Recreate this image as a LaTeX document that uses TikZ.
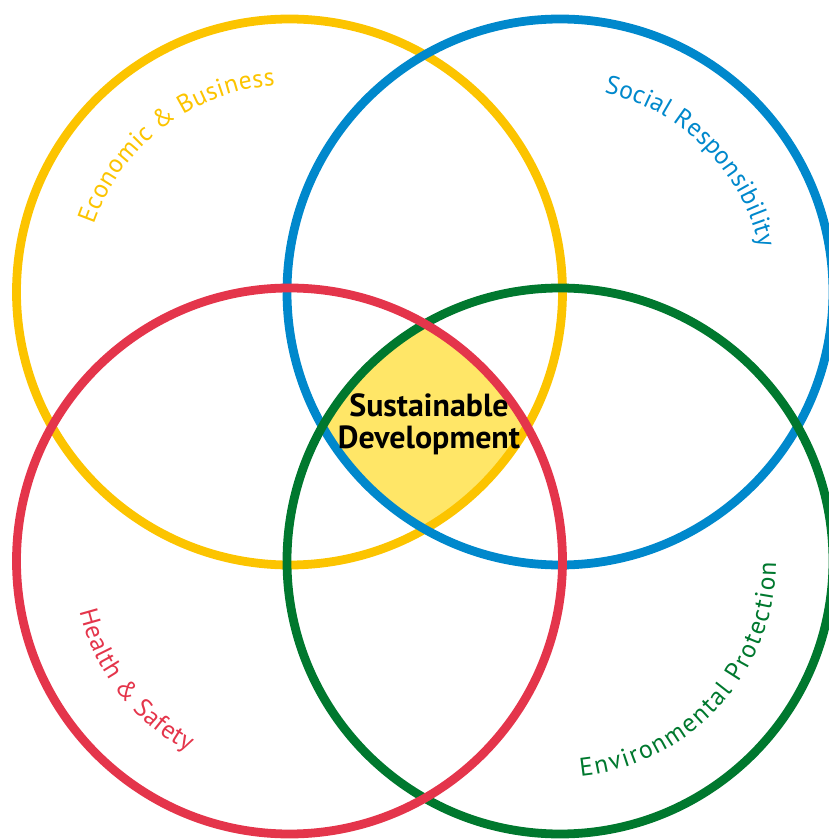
\documentclass[tikz,border=0pt]{standalone}
\usepackage{fontspec}
\setmainfont{PT Sans}
\usepackage{xcolor}
\usepackage{tikz}
\usetikzlibrary{decorations.text}
\definecolor{ecoyellow}{HTML}{FCC400}
\definecolor{socblue}{HTML}{0088CC}
\definecolor{healthred}{HTML}{E4354B}
\definecolor{envgreen}{HTML}{00782E}
\definecolor{corefill}{HTML}{FFE667}
\tikzstyle{ring} = [line width=5pt]
\tikzstyle{arclabel} = [decorate, decoration={text along path, text align={fit to path}}]
\tikzstyle{core} = [font=\fontsize{18.2}{18}\selectfont\bfseries, align=center, text=black]
\newcommand{\lblfont}{\fontsize{14.6}{17}\selectfont}

\begin{document}
\begin{tikzpicture}[x=0.02cm, y=0.02cm]
    \useasboundingbox (0,0) rectangle (829,840);
    \clip (0,0) rectangle (829,840);
    % Centres
    \coordinate (eco) at (289.5,548);
    \coordinate (soc) at (560,548);
    \coordinate (hs) at (289.5,279);
    \coordinate (env) at (560,279);
    \coordinate (mid) at (429,416);

    % Shared area
    \begin{scope}
        \clip (eco) circle[radius=273];
        \clip (soc) circle[radius=273];
        \clip (hs) circle[radius=273];
        \fill[corefill] (env) circle[radius=273];
    \end{scope}

    % Rings
    \draw[ring, ecoyellow] (eco) circle[radius=273];
    \draw[ring, socblue] (soc) circle[radius=273];
    \draw[ring, envgreen] (env) circle[radius=273];
    \draw[ring, healthred] (hs) circle[radius=273];

    % Labels
    \path[arclabel, decoration={text={|\lblfont\color{ecoyellow}|Economic {\&} Business}}]
        (eco) ++(161:207) arc[start angle=161, end angle=94, radius=207];
    \path[arclabel, decoration={text={|\lblfont\color{socblue}|Social Responsibility}}]
        (soc) ++(77.5:204) arc[start angle=77.5, end angle=12.5, radius=204];
    \path[arclabel, decoration={text={|\lblfont\color{healthred}|Health {\&} Safety}}]
        (hs) ++(193.5:216) arc[start angle=193.5, end angle=242, radius=216];
    \path[arclabel, decoration={text={|\lblfont\color{envgreen}|Environmental Protection}}]
        (env) ++(-84.5:216) arc[start angle=-84.5, end angle=-0.5, radius=216];

    \node[core] (sd) at (mid) {Sustainable\\Development};
\end{tikzpicture}
\end{document}
